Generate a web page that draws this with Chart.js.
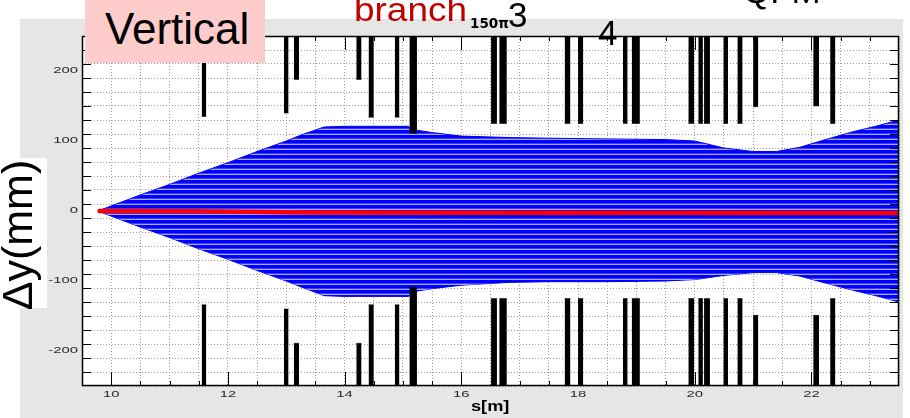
<!DOCTYPE html>
<html>
<head>
<meta charset="utf-8">
<script src="https://cdn.jsdelivr.net/npm/chart.js@4.4.0/dist/chart.umd.min.js"></script>
<style>
  html, body { margin: 0; padding: 0; background: #fff; }
  #wrap { position: relative; width: 910px; height: 418px; overflow: hidden; font-family: "Liberation Sans", Arial, sans-serif; }
  #panel { position: absolute; left: 20px; top: 19px; width: 883px; height: 399px; background: #e6e6e6; }
  #myChart { position: absolute; left: 0; top: 0; }
  .note { position: absolute; white-space: nowrap; line-height: 1; }
  #vbox { position: absolute; left: 85px; top: 0; width: 180px; height: 63px; background: #ffcccc; }
  #ybox { position: absolute; left: 0; top: 158px; width: 47px; height: 150px; background: #fff; }
</style>
</head>
<body>
<div id="wrap">
  <div id="panel"></div>
  <canvas id="myChart" width="910" height="418"></canvas>
  <div id="vbox"></div>
  <div class="note" style="left:105px; top:7px; font-size:44px; color:#000;">Vertical</div>
  <div class="note" style="left:354px; top:-7px; font-size:33px; color:#c00000; transform:scaleX(1.12); transform-origin:left top;">branch</div>
  <div class="note" style="left:470px; top:17px; font-size:13.5px; font-weight:bold; font-family:'DejaVu Sans'; color:#000;">150π</div>
  <div class="note" style="left:508px; top:-3px; font-size:35px; color:#000;">3</div>
  <div class="note" style="left:598px; top:15px; font-size:35px; color:#000;">4</div>
  <div class="note" style="left:743px; top:-27px; font-size:35px; color:#000;">QFM</div>
  <div id="ybox"></div>
  <div class="note" style="left:17px; top:235px; font-size:43px; color:#000; transform:translate(-50%,-50%) rotate(-90deg);">Δy(mm)</div>
</div>
<script>
/* data */
const xTickLabels = [10, 12, 14, 16, 18, 20, 22];
const yTickLabels = [-200, -100, 0, 100, 200];

// magnets: s range [m] and aperture edge [mm]
const magnetStart = [11.55, 12.96, 13.13, 14.20, 14.41, 14.86, 15.11, 16.51, 16.65, 17.77, 18.00,
  18.77, 18.92, 19.89, 20.06, 20.16, 20.49, 20.73, 21.00, 22.03, 22.32];
const magnetEnd = [11.63, 13.04, 13.22, 14.29, 14.50, 14.94, 15.24, 16.61, 16.78, 17.87, 18.09,
  18.85, 19.06, 19.99, 20.14, 20.26, 20.57, 20.82, 21.09, 22.13, 22.41];
const apertureTop = [135, 140, 188, 188, 134, 134, 111, 125, 125, 125, 125,
  125, 125, 125, 125, 125, 125, 125, 149, 150, 125];
const apertureBottom = [-134, -140, -189, -189, -134, -134, -109, -125, -125, -125, -125,
  -125, -125, -125, -125, -125, -125, -125, -149, -149, -125];

// beam envelope
const envS = [9.77, 10.5, 11.0, 11.5, 12.0, 12.5, 13.0, 13.3, 13.65, 14.0, 14.5, 15.1, 15.12,
  15.5, 16.0, 16.8, 17.5, 18.5, 19.5, 20.0, 20.5, 21.0, 21.4, 21.8, 22.2, 22.7, 23.1, 23.5];
const envUpper = [0, 23, 38, 54, 69, 85, 100, 110, 120, 121, 121, 121, 117,
  112, 107, 105, 104, 103, 102, 100, 90, 85, 85, 91, 101, 113, 121, 130];
const envLower = [0, -23, -38, -54, -69, -85, -100, -110, -121, -122, -122, -122, -116,
  -111, -106, -102, -101, -101, -100, -98, -92, -88, -88, -93, -102, -113, -121, -130];

// reference orbit
const refS = [9.77, 11.45, 13.38, 16.0, 23.5];
const refY = [0, -0.5, -2, -2.5, -3];

const X_MIN = 9.5, X_MAX = 23.5, Y_MIN = -250, Y_MAX = 250;

var canvas = document.getElementById('myChart');
var ctx = canvas.getContext('2d');

function stripes() {
  var c = document.createElement('canvas');
  c.width = 1;
  c.height = 5;
  var g = c.getContext('2d');
  ['#0000ff', '#0000ff', '#0000f0', '#3c3cff', '#a8a8ff'].forEach(function (col, i) {
    g.fillStyle = col;
    g.fillRect(0, i, 1, 1);
  });
  return ctx.createPattern(c, 'repeat');
}

function pts(xs, ys) {
  return xs.map(function (x, i) { return {x: x, y: ys[i]}; });
}

var datasets = [
  {data: pts(envS, envUpper), fill: '+1', backgroundColor: stripes(), borderColor: '#0000ff', borderWidth: 1, order: 2},
  {data: pts(envS, envLower), fill: false, borderColor: '#0000ff', borderWidth: 1, order: 2},
  {data: pts(refS, refY), fill: false, borderColor: '#ff0000', borderWidth: 4.5, order: 1}
];

magnetStart.forEach(function (s0, i) {
  var s1 = magnetEnd[i];
  datasets.push({
    data: [{x: s0, y: apertureTop[i]}, {x: s1, y: apertureTop[i]}],
    fill: {value: Y_MAX}, backgroundColor: '#000', borderColor: '#000', borderWidth: 0.5, order: 0
  });
  datasets.push({
    data: [{x: s0, y: apertureBottom[i]}, {x: s1, y: apertureBottom[i]}],
    fill: {value: Y_MIN}, backgroundColor: '#000', borderColor: '#000', borderWidth: 0.5, order: 0
  });
});

function stretchedText(c, text, x, y, align, sx) {
  c.save();
  c.translate(x, y);
  c.scale(sx, 1);
  c.textAlign = align;
  c.fillText(text, 0, 0);
  c.restore();
}

// ROOT style frame: white pad, inward ticks on four sides, stretched labels
const rootFrame = {
  id: 'rootFrame',
  beforeDraw: function (chart) {
    var a = chart.chartArea, c = chart.ctx;
    c.save();
    c.fillStyle = '#fff';
    c.fillRect(a.left, a.top, a.right - a.left, a.bottom - a.top);
    c.restore();
  },
  afterDatasetsDraw: function (chart) {
    var a = chart.chartArea, c = chart.ctx;
    var xs = chart.scales.x, ys = chart.scales.y;
    c.save();
    c.strokeStyle = '#000';
    c.lineWidth = 1;
    c.beginPath();
    xs.ticks.forEach(function (t) {
      if (t.value <= X_MIN || t.value >= X_MAX) return;
      var px = Math.round(xs.getPixelForValue(t.value)) + 0.5;
      var len = xTickLabels.indexOf(t.value) >= 0 ? 14 : 5;
      c.moveTo(px, a.bottom); c.lineTo(px, a.bottom - len);
      c.moveTo(px, a.top); c.lineTo(px, a.top + len);
    });
    ys.ticks.forEach(function (t) {
      if (t.value <= Y_MIN || t.value >= Y_MAX) return;
      var py = Math.round(ys.getPixelForValue(t.value)) + 0.5;
      var len = yTickLabels.indexOf(t.value) >= 0 ? 21 : 9;
      c.moveTo(a.left, py); c.lineTo(a.left + len, py);
      c.moveTo(a.right, py); c.lineTo(a.right - len, py);
    });
    c.stroke();
    c.lineWidth = 1.5;
    c.strokeRect(a.left + 0.5, a.top + 0.5, a.right - a.left - 1, a.bottom - a.top - 1);
    c.restore();
  },
  afterDraw: function (chart) {
    var a = chart.chartArea, c = chart.ctx;
    var xs = chart.scales.x, ys = chart.scales.y;
    c.save();
    c.fillStyle = '#2a2a2a';
    c.font = '9px "Liberation Sans", Arial, sans-serif';
    c.textBaseline = 'middle';
    yTickLabels.forEach(function (v) {
      stretchedText(c, String(v), a.left - 4, ys.getPixelForValue(v), 'right', 1.65);
    });
    xTickLabels.forEach(function (v) {
      stretchedText(c, String(v), xs.getPixelForValue(v), a.bottom + 8.5, 'center', 1.65);
    });
    c.fillStyle = '#000';
    c.font = 'bold 14px "Liberation Sans", Arial, sans-serif';
    c.textBaseline = 'alphabetic';
    stretchedText(c, 's[m]', 471, 411, 'left', 1.3);
    c.restore();
  }
};

new Chart(ctx, {
  type: 'line',
  data: {datasets: datasets},
  options: {
    responsive: false,
    animation: false,
    events: [],
    layout: {padding: {top: 36, right: 11, left: 0, bottom: 0}},
    elements: {point: {radius: 0}, line: {tension: 0}},
    plugins: {legend: {display: false}, tooltip: {enabled: false}},
    scales: {
      x: {
        type: 'linear', min: X_MIN, max: X_MAX,
        ticks: {display: false, stepSize: 0.5},
        grid: {color: '#999999', lineWidth: 1, drawTicks: false},
        border: {display: false, dash: [1, 2]},
        afterFit: function (scale) { scale.height = 32; }
      },
      y: {
        type: 'linear', min: Y_MIN, max: Y_MAX,
        ticks: {display: false, stepSize: 20},
        grid: {color: '#999999', lineWidth: 1, drawTicks: false},
        border: {display: false, dash: [1, 2]},
        afterFit: function (scale) { scale.width = 82; }
      }
    }
  },
  plugins: [rootFrame]
});
</script>
</body>
</html>
